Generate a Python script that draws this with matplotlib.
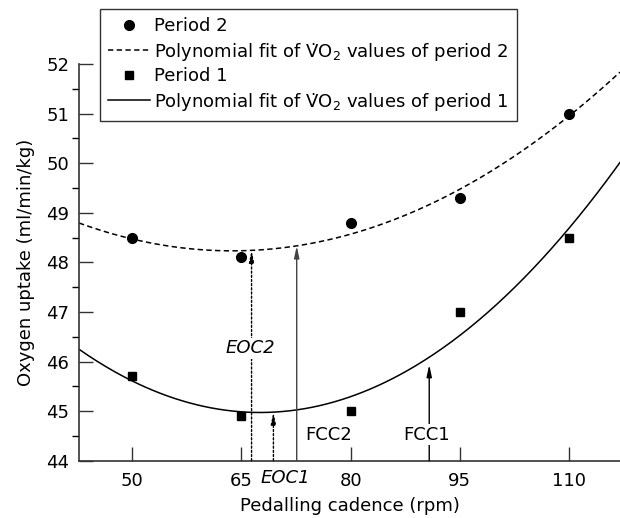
import numpy as np
import matplotlib
matplotlib.use("Agg")
import matplotlib.pyplot as plt

plt.rcParams['font.family'] = ['DejaVu Sans']
plt.rcParams['mathtext.fontset'] = 'dejavusans'

# Data
cadence = [50, 65, 80, 95, 110]
period2 = [48.5, 48.1, 48.8, 49.3, 51.0]
period1 = [45.7, 44.9, 45.0, 47.0, 48.5]
xticks = [50, 65, 80, 95, 110]
yticks = [44, 45, 46, 47, 48, 49, 50, 51, 52]
# Marked cadences (rpm)
eoc2 = 66.4
eoc1 = 69.4
fcc2 = 72.6
fcc1 = 90.8

xmin, xmax = 42.7, 117.0
ymin, ymax = 44, 52

fig = plt.figure(figsize=(6.2, 5.18), dpi=100)
ax = fig.add_axes([79/620, 57.3/518, 1 - 79/620, (460.7-64)/518])

p2 = np.polyfit(cadence, period2, 2)
p1 = np.polyfit(cadence, period1, 2)
xs = np.linspace(xmin, xmax, 300)

vo2 = 'V\u0307O$_2$'
fs = 13
ax.plot(cadence, period2, 'o', color='black', markersize=7, label='Period 2', zorder=5)
ax.plot(xs, np.polyval(p2, xs), color='black', lw=1.1, dashes=(3.5, 2.2),
        label='Polynomial fit of ' + vo2 + ' values of period 2')
ax.plot(cadence, period1, 's', color='black', markersize=6, label='Period 1', zorder=5)
ax.plot(xs, np.polyval(p1, xs), color='black', lw=1.1,
        label='Polynomial fit of ' + vo2 + ' values of period 1')

def arrow(x, ytip, ls, color='black'):
    ax.annotate('', xy=(x, ytip), xytext=(x, ymin),
                arrowprops=dict(arrowstyle='-|>,head_length=0.7,head_width=0.15',
                                lw=1.0, ls=ls, color=color, shrinkA=0, shrinkB=0),
                zorder=3)

arrow(eoc2, np.polyval(p2, eoc2), (0, (1.5, 1.5)))
arrow(eoc1, np.polyval(p1, eoc1), (0, (1.5, 1.5)))
arrow(fcc2, np.polyval(p2, fcc2), '-', color='#444444')
arrow(fcc1, np.polyval(p1, fcc1) - 0.15, '-')

ax.text(66.2, 46.27, 'EOC2', style='italic', fontsize=fs, ha='center', va='center',
        bbox=dict(facecolor='white', edgecolor='none', pad=1), zorder=4)
ax.text(77.0, 44.52, 'FCC2', fontsize=fs, ha='center', va='center', zorder=4)
ax.text(90.4, 44.52, 'FCC1', fontsize=fs, ha='center', va='center',
        bbox=dict(facecolor='white', edgecolor='none', pad=1), zorder=4)
ax.text(71.1, 44 - 0.35, 'EOC1', style='italic', fontsize=fs, ha='center', va='center',
        clip_on=False)

ax.set_xlim(xmin, xmax)
ax.set_ylim(ymin, ymax)
ax.set_xticks(xticks)
ax.set_yticks(yticks)
ax.set_yticks(np.arange(44.5, 52, 1.0), minor=True)
ax.tick_params(axis='both', direction='in', labelsize=fs, color='#333333')
ax.tick_params(axis='y', which='major', length=10, width=1.0, pad=7)
ax.tick_params(axis='y', which='minor', length=5, width=1.0)
ax.tick_params(axis='x', which='major', length=10, width=1.0, pad=8)
ax.spines['top'].set_visible(False)
ax.spines['right'].set_visible(False)
for s in ['left', 'bottom']:
    ax.spines[s].set_color('#333333')
    ax.spines[s].set_linewidth(1.2)

ax.set_xlabel('Pedalling cadence (rpm)', fontsize=fs, labelpad=5)
ax.set_ylabel('Oxygen uptake (ml/min/kg)', fontsize=fs, labelpad=8)

leg = fig.legend(loc='upper left', bbox_to_anchor=(100/620, 1 - 9/518),
                 fontsize=fs, frameon=True, fancybox=False, edgecolor='black',
                 handlelength=2.3, handletextpad=0.25, borderpad=0.45,
                 labelspacing=0.25, borderaxespad=0)
leg.get_frame().set_linewidth(1.0)

fig.savefig('out.png', dpi=100)
